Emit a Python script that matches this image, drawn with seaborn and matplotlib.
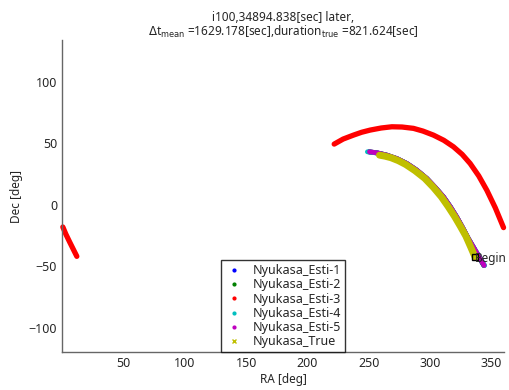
import numpy as np
import pandas as pd
import matplotlib
matplotlib.use("Agg")
import matplotlib.pyplot as plt
import seaborn as sns
from matplotlib.lines import Line2D

sns.set_style("white")
plt.rcParams['font.family'] = ['Noto Sans', 'DejaVu Sans']

# ---- data ----
esti_dec = [43.1, 42.2, 40.4, 37.5, 33.6, 28.2, 21.4, 14.2, 6.4, -1.8, -10.0, -18.8, -27.6, -38.5, -49.4]
esti5_ra = [250.5, 257.0, 264.6, 273.0, 280.9, 289.0, 297.2, 304.0, 310.8, 316.5, 321.6, 326.5, 331.1, 337.5, 343.9]
esti1_ra = [250.0, 256.8, 264.4, 272.8, 280.8, 288.9, 297.1, 303.9, 310.7, 316.4, 321.5, 326.4, 331.0, 337.3, 343.6]
esti2_ra = [250.2, 256.9, 264.5, 272.9, 280.8, 288.9, 297.1, 303.9, 310.7, 316.4, 321.5, 326.4, 331.0, 337.4, 343.7]
esti4_ra = [248.8, 256.5, 264.2, 272.7, 280.6, 288.8, 297.0, 303.8, 310.6, 316.4, 321.4, 326.4, 331.0, 337.6, 344.3]
true_ra = [258.6, 263.0, 268.0, 274.0, 280.0, 287.5, 295.5, 302.5, 309.0, 314.6, 319.8, 324.5, 329.0, 333.0, 336.6]
true_dec = [40.4, 39.6, 38.3, 35.9, 32.8, 27.8, 21.5, 14.2, 6.5, -1.5, -9.5, -17.5, -25.5, -34.5, -42.9]
esti3_ra_a = [221.7, 229.0, 237.4, 244.0, 251.0, 260.0, 268.7, 277.0, 286.3, 294.0, 302.6,
              311.0, 318.9, 326.0, 332.5, 339.5, 346.1, 353.0, 359.7]
esti3_dec_a = [49.4, 53.5, 56.7, 59.0, 60.8, 62.5, 63.5, 63.3, 62.2, 60.0, 56.7,
               52.5, 47.2, 41.0, 33.6, 23.5, 11.8, -2.5, -18.6]
esti3_ra_b = [0.6, 3.0, 6.0, 9.0, 12.0]
esti3_dec_b = [-18.1, -23.8, -30.0, -36.0, -42.0]

labels = ['Nyukasa_Esti-1', 'Nyukasa_Esti-2', 'Nyukasa_Esti-3',
          'Nyukasa_Esti-4', 'Nyukasa_Esti-5', 'Nyukasa_True']
colors = ['#0000ff', '#008000', '#ff0000', '#00bfbf', '#bf00bf', '#bfbf00']

title_l1 = "i100,34894.838[sec] later,"
title_l2 = r"$\Delta$t$_{\mathrm{mean}}$ =1629.178[sec],duration$_{\mathrm{true}}$ =821.624[sec]"

fig = plt.figure(figsize=(5.09, 3.90), dpi=100)
ax = fig.add_axes([0.122, 0.097, 0.868, 0.800])

def draw(ra, dec, color, lw):
    df = pd.DataFrame({'RA': ra, 'Dec': dec})
    sns.lineplot(data=df, x='RA', y='Dec', sort=False, estimator=None,
                 color=color, linewidth=lw, ax=ax, legend=False,
                 solid_capstyle='round', solid_joinstyle='round', clip_on=False)

draw(esti1_ra, esti_dec, colors[0], 3.5)
draw(esti2_ra, esti_dec, colors[1], 3.5)
draw(esti3_ra_a, esti3_dec_a, colors[2], 3.8)
draw(esti3_ra_b, esti3_dec_b, colors[2], 3.8)
draw(esti4_ra, esti_dec, colors[3], 3.5)
draw(esti5_ra, esti_dec, colors[4], 3.5)
draw(true_ra, true_dec, colors[5], 5.0)

ax.plot([true_ra[-1]], [true_dec[-1]], marker='s', ms=4, color='black', mfc='none')
ax.text(true_ra[-1] - 0.5, true_dec[-1] - 1, 'Begin', fontsize=8.5, va='center', ha='left')

ax.set_xlim(0, 360)
ax.set_ylim(-120, 134)
ax.set_xticks([50, 100, 150, 200, 250, 300, 350])
ax.set_yticks([-100, -50, 0, 50, 100])
ax.set_xlabel('RA [deg]', fontsize=8.5, labelpad=2)
ax.set_ylabel('Dec [deg]', fontsize=8.5, labelpad=4)
ax.tick_params(direction='in', length=3, labelsize=9, color='#555555', width=0.8)
for s in ['top', 'right']:
    ax.spines[s].set_visible(False)
for s in ['left', 'bottom']:
    ax.spines[s].set_color('#666666')
    ax.spines[s].set_linewidth(1.0)

ax.set_title(title_l1 + "\n" + title_l2, fontsize=8.5, pad=3, linespacing=1.0)

handles = []
for lab, c in zip(labels, colors):
    m = 'x' if 'True' in lab else '.'
    handles.append(Line2D([], [], linestyle='none', marker=m, color=c,
                          markersize=3 if m == 'x' else 4, label=lab))
leg = ax.legend(handles=handles, loc='lower center', bbox_to_anchor=(0.5, 0.0),
                borderaxespad=0, fontsize=9, frameon=True, fancybox=False,
                edgecolor='black', handlelength=1.5, labelspacing=0.1,
                borderpad=0.3, handletextpad=0.8)
leg.get_frame().set_linewidth(1.0)

fig.savefig('out.png', dpi=100)
